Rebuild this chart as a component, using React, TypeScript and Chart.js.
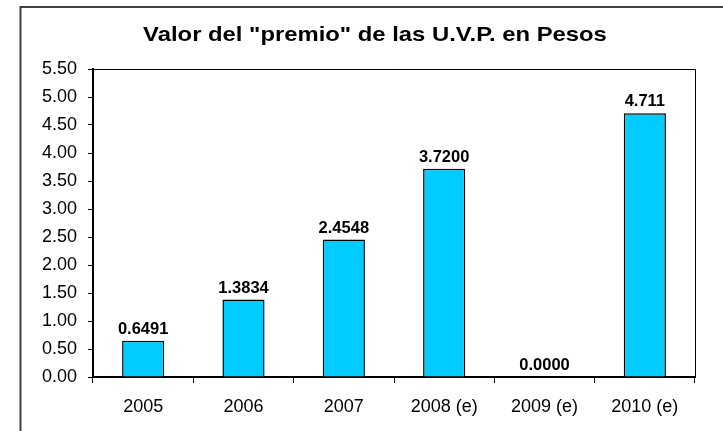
import React, { useEffect, useRef } from "react";
import { Chart, registerables } from "chart.js";

Chart.register(...registerables);

const categories = ["2005", "2006", "2007", "2008 (e)", "2009 (e)", "2010 (e)"];
const values = [0.6491, 1.3834, 2.4548, 3.72, 0.0, 4.711];
const valueLabels = ["0.6491", "1.3834", "2.4548", "3.7200", "0.0000", "4.711"];
const yTicks = [0, 0.5, 1, 1.5, 2, 2.5, 3, 3.5, 4, 4.5, 5, 5.5];
const titleText = 'Valor del "premio" de las U.V.P. en Pesos';

const FONT = "'Liberation Sans', Arial, Helvetica, sans-serif";

export default function App() {
  const ref = useRef<HTMLCanvasElement | null>(null);

  useEffect(() => {
    if (!ref.current) return;

    const framePlugin = {
      id: "frame",
      beforeDraw(chart: any) {
        const ctx = chart.ctx;
        ctx.save();
        ctx.fillStyle = "#ffffff";
        ctx.fillRect(0, 0, chart.width, chart.height);
        ctx.strokeStyle = "#404040";
        ctx.lineWidth = 2;
        ctx.strokeRect(20.5, 7, 760, 500);
        // title, horizontally stretched like the reference
        ctx.font = "bold 21px " + FONT;
        ctx.fillStyle = "#000000";
        ctx.textAlign = "center";
        ctx.textBaseline = "middle";
        ctx.translate(375, 35);
        ctx.scale(1.135, 1);
        ctx.fillText(titleText, 0, 0);
        ctx.restore();
      },
      afterDraw(chart: any) {
        const { ctx, chartArea } = chart;
        ctx.save();
        ctx.strokeStyle = "#000000";
        ctx.lineWidth = 1;
        ctx.beginPath();
        ctx.moveTo(chartArea.left, chartArea.top + 0.5);
        ctx.lineTo(chartArea.right + 0.5, chartArea.top + 0.5);
        ctx.lineTo(chartArea.right + 0.5, chartArea.bottom);
        ctx.stroke();
        ctx.restore();
      },
    };

    const valueLabelPlugin = {
      id: "valueLabels",
      afterDatasetsDraw(chart: any) {
        const ctx = chart.ctx;
        const meta = chart.getDatasetMeta(0);
        ctx.save();
        ctx.font = "bold 16.5px " + FONT;
        ctx.fillStyle = "#000000";
        ctx.textAlign = "center";
        ctx.textBaseline = "bottom";
        meta.data.forEach((bar: any, i: number) => {
          ctx.fillText(valueLabels[i], bar.x, bar.y - 3);
        });
        ctx.restore();
      },
    };

    const chart = new Chart(ref.current, {
      type: "bar",
      data: {
        labels: categories,
        datasets: [
          {
            data: values,
            backgroundColor: "#00CCFF",
            borderColor: "#000000",
            borderWidth: 1.5,
            borderSkipped: "bottom",
            barPercentage: 0.42,
            categoryPercentage: 1,
          },
        ],
      },
      options: {
        responsive: false,
        animation: false,
        devicePixelRatio: 1,
        layout: { padding: { left: 0, right: 28, top: 69, bottom: 0 } },
        plugins: {
          legend: { display: false },
          tooltip: { enabled: false },
          title: { display: false },
        },
        scales: {
          x: {
            offset: true,
            grid: {
              display: true,
              offset: true,
              drawOnChartArea: false,
              drawTicks: true,
              tickLength: 6,
              color: "#000000",
              lineWidth: 1,
            },
            border: { display: true, color: "#000000", width: 2 },
            ticks: {
              color: "#000000",
              font: { family: FONT, size: 18 },
              padding: 13,
              maxRotation: 0,
              autoSkip: false,
            },
            afterFit(scale: any) {
              scale.height = 54;
            },
          },
          y: {
            min: 0,
            max: 5.5,
            afterBuildTicks(scale: any) {
              scale.ticks = yTicks.map((v) => ({ value: v }));
            },
            grid: {
              display: true,
              drawOnChartArea: false,
              drawTicks: true,
              tickLength: 5,
              color: "#000000",
              lineWidth: 1,
            },
            border: { display: true, color: "#000000", width: 2 },
            ticks: {
              color: "#000000",
              font: { family: FONT, size: 18 },
              padding: 11,
              callback: (v: any) => Number(v).toFixed(2),
            },
            afterFit(scale: any) {
              scale.width = 93;
            },
          },
        },
      },
      plugins: [framePlugin, valueLabelPlugin],
    });

    return () => chart.destroy();
  }, []);

  return (
    <div style={{ position: "fixed", left: 0, top: 0, width: 723, height: 431, background: "#fff" }}>
      <canvas ref={ref} width={723} height={431} style={{ display: "block", width: 723, height: 431 }} />
    </div>
  );
}
